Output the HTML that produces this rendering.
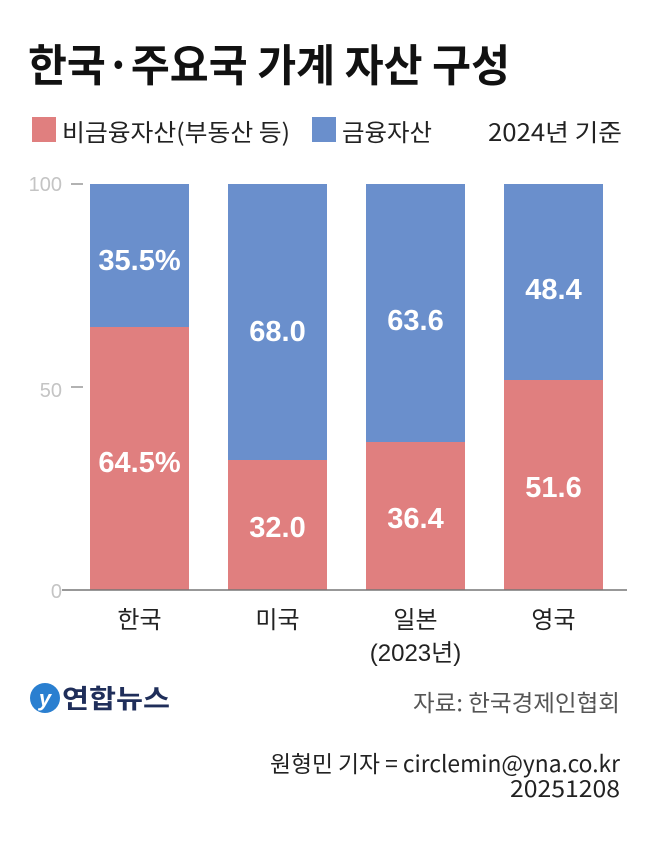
<!DOCTYPE html>
<html><head><meta charset="utf-8"><style>
html,body{margin:0;padding:0;background:#fff;}
svg{display:block;}
text{font-family:"Liberation Sans","Noto Sans CJK KR",sans-serif;}
.k{font-family:"Noto Sans CJK KR",sans-serif;}
</style></head><body>
<svg width="650" height="859" viewBox="0 0 650 859" xmlns="http://www.w3.org/2000/svg">
<rect width="650" height="859" fill="#fff"/>
<text class="k" x="28" y="81" font-size="44" font-weight="bold" fill="#111" textLength="482" lengthAdjust="spacingAndGlyphs">한국·주요국 가계 자산 구성</text>
<rect x="32" y="117" width="24" height="25" fill="#e07f7f"/>
<text class="k" x="62" y="141" font-size="24" fill="#222" textLength="228" lengthAdjust="spacingAndGlyphs">비금융자산(부동산 등)</text>
<rect x="312" y="117" width="24" height="25" fill="#6a8fcc"/>
<text class="k" x="342" y="141" font-size="24" fill="#222" textLength="90" lengthAdjust="spacingAndGlyphs">금융자산</text>
<text class="k" x="488" y="141" font-size="24" fill="#222" textLength="134" lengthAdjust="spacingAndGlyphs">2024년 기준</text>
<g font-size="20" fill="#c4c4c4" text-anchor="end">
<text x="62" y="191">100</text><text x="62" y="397">50</text><text x="62" y="598">0</text>
</g>
<line x1="71" y1="184" x2="83" y2="184" stroke="#999" stroke-width="1.5"/>
<line x1="71" y1="387" x2="83" y2="387" stroke="#999" stroke-width="1.5"/>
<g>
<rect x="90" y="184" width="99" height="143" fill="#6a8fcc"/><rect x="90" y="327" width="99" height="263" fill="#e07f7f"/>
<rect x="228" y="184" width="99" height="276" fill="#6a8fcc"/><rect x="228" y="460" width="99" height="130" fill="#e07f7f"/>
<rect x="366" y="184" width="99" height="258" fill="#6a8fcc"/><rect x="366" y="442" width="99" height="148" fill="#e07f7f"/>
<rect x="504" y="184" width="99" height="196" fill="#6a8fcc"/><rect x="504" y="380" width="99" height="210" fill="#e07f7f"/>
</g>
<line x1="62" y1="590" x2="627" y2="590" stroke="#777" stroke-width="1.5"/>
<g font-size="29" font-weight="bold" fill="#fff" text-anchor="middle">
<text x="139.5" y="270">35.5%</text><text x="139.5" y="472">64.5%</text>
<text x="277.5" y="341">68.0</text><text x="277.5" y="537">32.0</text>
<text x="415.5" y="330">63.6</text><text x="415.5" y="528">36.4</text>
<text x="553.5" y="299">48.4</text><text x="553.5" y="497">51.6</text>
</g>
<g class="k" font-size="24" fill="#222" text-anchor="middle">
<text x="139.5" y="628">한국</text><text x="277.5" y="628">미국</text>
<text x="415.5" y="628">일본</text><text x="415.5" y="661">(2023년)</text>
<text x="553.5" y="628">영국</text>
</g>
<circle cx="45" cy="698" r="15" fill="#2a7fd0"/>
<text x="45" y="706" font-size="22" font-style="italic" font-weight="bold" fill="#fff" text-anchor="middle">y</text>
<text class="k" x="62" y="708" font-size="26" font-weight="bold" fill="#1f2e5a" textLength="108" lengthAdjust="spacingAndGlyphs">연합뉴스</text>
<text class="k" x="413" y="711" font-size="23" fill="#555" textLength="207" lengthAdjust="spacingAndGlyphs">자료: 한국경제인협회</text>
<text class="k" x="270" y="772" font-size="23" fill="#222" textLength="350" lengthAdjust="spacingAndGlyphs">원형민 기자 = circlemin@yna.co.kr</text>
<text class="k" x="510" y="797" font-size="23" fill="#222" textLength="110" lengthAdjust="spacingAndGlyphs">20251208</text>
</svg>
</body></html>
